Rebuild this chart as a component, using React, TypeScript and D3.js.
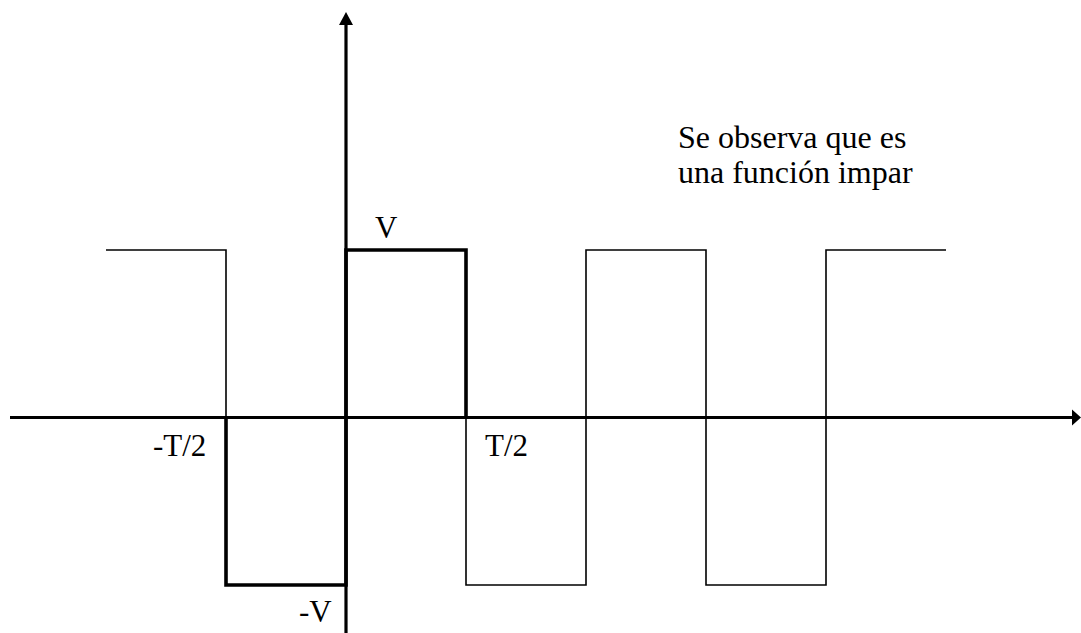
import React from "react";
import * as d3 from "d3";

// Square wave breakpoints (time in units of T, value in units of V)
const waveT = [-1, -0.5, -0.5, 0, 0, 0.5, 0.5, 1, 1, 1.5, 1.5, 2, 2, 2.5];
const waveV = [1, 1, -1, -1, 1, 1, -1, -1, 1, 1, -1, -1, 1, 1];
// Highlighted period
const boldT = [-0.5, -0.5, 0, 0, 0.5, 0.5];
const boldV = [0, -1, -1, 1, 1, 0];

const labels = [
  { text: "V", t: 0.125, v: 1, dx: -1, dy: -12 },
  { text: "-T/2", t: -0.5, v: 0, dx: -73, dy: 38 },
  { text: "T/2", t: 0.5, v: 0, dx: 19, dy: 38 },
  { text: "-V", t: 0, v: -1, dx: -47, dy: 37 },
];
const note = ["Se observa que es", "una función impar"];

export default function App() {
  const W = 1081;
  const H = 633;
  const x = d3.scaleLinear().domain([0, 0.5]).range([346, 466]);
  const y = d3.scaleLinear().domain([-1, 1]).range([585, 250]);
  const line = d3
    .line<[number, number]>()
    .x((d) => x(d[0]))
    .y((d) => y(d[1]));
  const wave = waveT.map((t, i) => [t, waveV[i]] as [number, number]);
  const bold = boldT.map((t, i) => [t, boldV[i]] as [number, number]);
  const x0 = x(0);
  const y0 = y(0);
  return (
    <svg
      width={W}
      height={H}
      style={{ position: "absolute", left: 0, top: 0, fontFamily: "serif" }}
    >
      <rect width={W} height={H} fill="#fff" />
      {/* thin wave */}
      <path d={line(wave) || ""} fill="none" stroke="#000" strokeWidth={1.6} />
      {/* x axis */}
      <line x1={10} x2={1074} y1={y0} y2={y0} stroke="#000" strokeWidth={3.2} />
      <path d={`M1081,${y0} L1072,${y0 - 8} L1072,${y0 + 8} Z`} fill="#000" />
      {/* y axis */}
      <line x1={x0} x2={x0} y1={22} y2={H} stroke="#000" strokeWidth={3.2} />
      <path d={`M${x0},12 L${x0 - 7},25 L${x0 + 7},25 Z`} fill="#000" />
      {/* bold period */}
      <path
        d={line(bold) || ""}
        fill="none"
        stroke="#000"
        strokeWidth={3.6}
        strokeLinejoin="miter"
      />
      {labels.map((l, i) => (
        <text
          key={i}
          x={x(l.t) + l.dx}
          y={y(l.v) + l.dy}
          style={{ fontFamily: "'Liberation Serif', serif", fontSize: "31px" }}
        >
          {l.text}
        </text>
      ))}
      {note.map((s, i) => (
        <text
          key={i}
          x={678}
          y={148 + i * 35}
          style={{ fontFamily: "'Liberation Serif', serif", fontSize: "32px" }}
        >
          {s}
        </text>
      ))}
    </svg>
  );
}
